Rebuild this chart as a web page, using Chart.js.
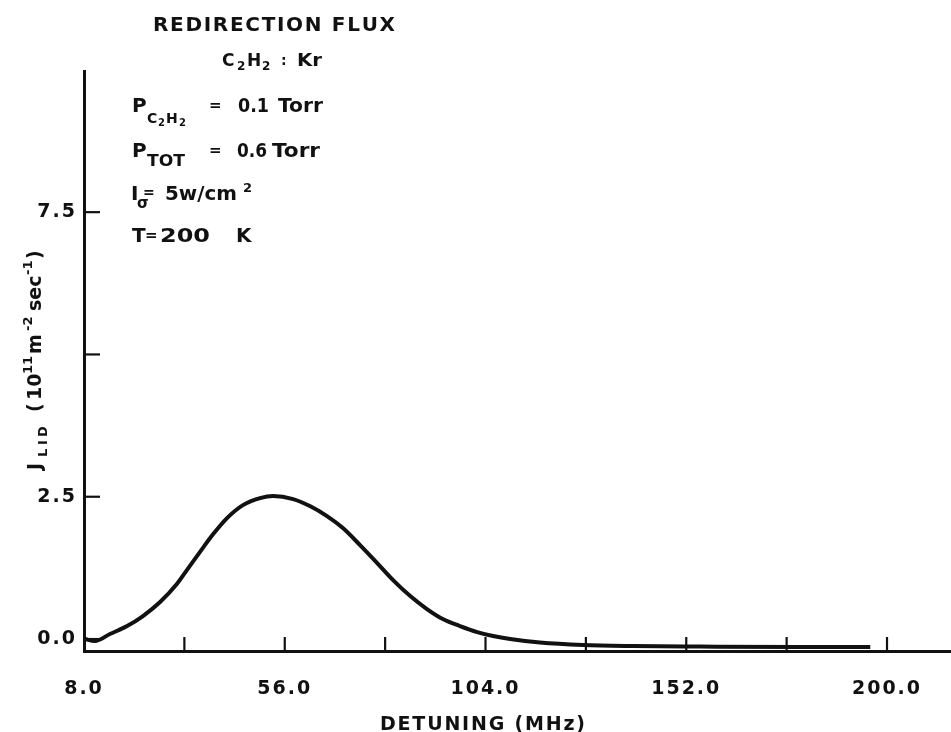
<!DOCTYPE html>
<html><head><meta charset="utf-8">
<script src="https://cdn.jsdelivr.net/npm/chart.js@4/dist/chart.umd.min.js"></script>
<style>html,body{margin:0;padding:0;background:#fff}canvas{display:block}</style>
</head><body>
<canvas id="c" width="951" height="732"></canvas>
<script>
// ---- data ----
const detuning = [8.2, 10.6, 14.2, 18.3, 22.1, 26.2, 30.2, 32.6, 35.7, 38.9, 42.2, 46.0, 50.1, 53.2, 58.0, 62.0, 66.1, 69.9, 74.0, 78.1, 81.9, 86.0, 90.0, 93.8, 97.9, 102.0, 105.8, 109.9, 117.0, 127.3, 139.3, 155.3, 179.2, 196.0];
const flux = [0.0, -0.035, 0.088, 0.228, 0.404, 0.65, 0.966, 1.212, 1.528, 1.844, 2.125, 2.353, 2.476, 2.512, 2.459, 2.336, 2.16, 1.95, 1.651, 1.335, 1.036, 0.755, 0.527, 0.351, 0.228, 0.123, 0.053, 0.0, -0.061, -0.105, -0.123, -0.132, -0.14, -0.14];
const xTickValues = [8, 32, 56, 80, 104, 128, 152, 176, 200];
const xTickLabels = ['8.0', '', '56.0', '', '104.0', '', '152.0', '', '200.0'];
const yTickValues = [0, 2.5, 5, 7.5];
const yTickLabels = ['0.0', '2.5', '', '7.5'];
const xTitle = 'DETUNING (MHz)';
const chartTitle = 'REDIRECTION FLUX';

const FONT = '"DejaVu Sans"';
const INK = '#111';

// text stretched horizontally to an optional width
function put(ctx, s, x, y, size, w) {
  ctx.font = 'bold ' + size + 'px ' + FONT;
  const nat = ctx.measureText(s).width;
  const sx = w ? w / nat : 1;
  ctx.save(); ctx.translate(x, y); ctx.scale(sx, 1); ctx.fillText(s, 0, 0); ctx.restore();
}
// text letter-spaced to a width
function spaced(ctx, s, x, y, size, w) {
  ctx.font = 'bold ' + size + 'px ' + FONT;
  const chars = [...s];
  const ws = chars.map(c => ctx.measureText(c).width);
  const nat = ws.reduce((a, b) => a + b, 0);
  const gap = chars.length > 1 ? (w - nat) / (chars.length - 1) : 0;
  let cx = x;
  chars.forEach((c, i) => { ctx.fillText(c, cx, y); cx += ws[i] + gap; });
}

const decor = {
  id: 'decor',
  beforeDraw(chart) {
    const ctx = chart.ctx;
    ctx.save();
    ctx.fillStyle = '#fff';
    ctx.fillRect(0, 0, chart.width, chart.height);
    ctx.restore();
    try { ctx.letterSpacing = '2px'; } catch (e) {}
  },
  afterDatasetsDraw(chart) {
    const ctx = chart.ctx, xs = chart.scales.x, ys = chart.scales.y, a = chart.chartArea;
    ctx.save();
    ctx.strokeStyle = INK; ctx.lineWidth = 2.2; ctx.lineCap = 'butt';
    xTickValues.slice(1).forEach(v => {
      const px = xs.getPixelForValue(v);
      ctx.beginPath(); ctx.moveTo(px, a.bottom); ctx.lineTo(px, a.bottom - 14); ctx.stroke();
    });
    yTickValues.forEach(v => {
      const py = ys.getPixelForValue(v);
      ctx.beginPath(); ctx.moveTo(a.left, py); ctx.lineTo(a.left + 16, py); ctx.stroke();
    });
    ctx.restore();
  },
  afterDraw(chart) {
    const ctx = chart.ctx;
    ctx.save();
    try { ctx.letterSpacing = '0px'; } catch (e) {}
    ctx.fillStyle = INK;
    ctx.textBaseline = 'alphabetic';
    ctx.textAlign = 'left';
    // title block
    spaced(ctx, chartTitle, 153, 31, 20, 242);
    put(ctx, 'C', 222, 66, 17);
    put(ctx, '2', 237, 70, 12);
    put(ctx, 'H', 247, 66, 17);
    put(ctx, '2', 262, 70, 12);
    put(ctx, ':', 281, 65, 14);
    put(ctx, 'Kr', 297, 66, 17, 25);
    // P C2H2
    put(ctx, 'P', 132, 112, 20);
    put(ctx, 'C', 147, 123, 14);
    put(ctx, '2', 158, 126, 10);
    put(ctx, 'H', 166, 123, 14);
    put(ctx, '2', 179, 126, 10);
    put(ctx, '=', 209, 110, 15);
    put(ctx, '0.1', 238, 112, 20, 31);
    put(ctx, 'Torr', 278, 112, 20, 45);
    // P TOT
    put(ctx, 'P', 132, 157, 20);
    put(ctx, 'TOT', 147, 166, 15, 38);
    put(ctx, '=', 209, 155, 15);
    put(ctx, '0.6', 237, 157, 20, 30);
    put(ctx, 'Torr', 272, 157, 20, 48);
    // I sigma
    put(ctx, 'I', 131, 200, 20);
    put(ctx, '\u03C3', 137, 208, 15);
    put(ctx, '=', 143, 197, 14);
    put(ctx, '5w/cm', 165, 200, 20, 72);
    put(ctx, '2', 243, 192, 13);
    // T
    put(ctx, 'T', 132, 242, 20);
    put(ctx, '=', 145, 240, 15);
    put(ctx, '200', 160, 242, 20, 50);
    put(ctx, 'K', 236, 242, 20);
    // x-axis title
    spaced(ctx, xTitle, 380, 730, 19, 205);
    // y-axis title, rotated
    ctx.translate(41, 470);
    ctx.rotate(-Math.PI / 2);
    put(ctx, 'J', 0, 0, 19);
    put(ctx, 'L', 13, 6, 13);
    put(ctx, 'I', 25, 6, 13);
    put(ctx, 'D', 33, 6, 13);
    put(ctx, '(', 58, 0, 19);
    put(ctx, '10', 70, 0, 19);
    put(ctx, '11', 96, -9, 13);
    put(ctx, 'm', 116, 0, 19);
    put(ctx, '-2', 139, -9, 13);
    put(ctx, 'sec', 159, 0, 19);
    put(ctx, '-1', 195, -9, 13);
    put(ctx, ')', 211, 0, 19);
    ctx.restore();
  }
};

new Chart(document.getElementById('c'), {
  type: 'line',
  data: {
    datasets: [{
      data: detuning.map((x, i) => ({ x: x, y: flux[i] })),
      borderColor: INK, borderWidth: 4, pointRadius: 0,
      cubicInterpolationMode: 'monotone', fill: false
    }]
  },
  options: {
    responsive: false, animation: false, devicePixelRatio: 1,
    layout: { padding: { top: 71, right: 0, bottom: 0, left: 0 } },
    plugins: { legend: { display: false }, tooltip: { enabled: false }, title: { display: false } },
    scales: {
      x: {
        type: 'linear', min: 8, max: 215.3,
        afterBuildTicks: s => { s.ticks = xTickValues.map(v => ({ value: v })); },
        afterFit: s => { s.height = 81; },
        grid: { display: true, drawOnChartArea: false, drawTicks: false },
        border: { display: true, color: INK, width: 3 },
        ticks: {
          autoSkip: false, maxRotation: 0, minRotation: 0, padding: 27, color: INK,
          font: { family: 'DejaVu Sans', weight: 'bold', size: 19 },
          callback: v => { const i = xTickValues.indexOf(v); return i >= 0 ? xTickLabels[i] : ''; }
        }
      },
      y: {
        type: 'linear', min: -0.21, max: 9.98,
        afterBuildTicks: s => { s.ticks = yTickValues.map(v => ({ value: v })); },
        afterFit: s => { s.width = 84; },
        grid: { display: true, drawOnChartArea: false, drawTicks: false },
        border: { display: true, color: INK, width: 3 },
        ticks: {
          autoSkip: false, padding: 7, color: INK,
          font: { family: 'DejaVu Sans', weight: 'bold', size: 19 },
          callback: v => { const i = yTickValues.indexOf(v); return i >= 0 ? yTickLabels[i] : ''; }
        }
      }
    }
  },
  plugins: [decor]
});
</script>
</body></html>
